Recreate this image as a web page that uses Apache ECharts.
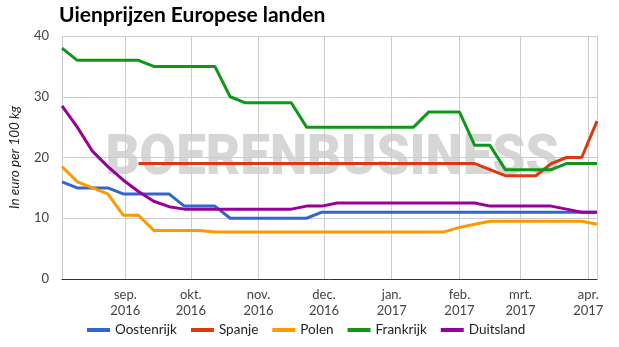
<!DOCTYPE html>
<html>
<head>
<meta charset="utf-8">
<script src="https://cdn.jsdelivr.net/npm/echarts@6/dist/echarts.min.js"></script>
<style>html,body{margin:0;padding:0;background:#fff}#c{width:619px;height:347px}</style>
</head>
<body>
<div id="c"></div>
<script>
const dates = ['2016-08-03','2016-08-10','2016-08-17','2016-08-24','2016-08-31',
  '2016-09-07','2016-09-14','2016-09-21','2016-09-28',
  '2016-10-05','2016-10-12','2016-10-19','2016-10-26',
  '2016-11-02','2016-11-09','2016-11-16','2016-11-23','2016-11-30',
  '2016-12-07','2016-12-14','2016-12-21','2016-12-28',
  '2017-01-04','2017-01-11','2017-01-18','2017-01-25',
  '2017-02-01','2017-02-08','2017-02-15','2017-02-22',
  '2017-03-01','2017-03-08','2017-03-15','2017-03-22','2017-03-29',
  '2017-04-05'];
const oostenrijk = [16,15,15,15,14,14,14,14,12,12,12,10,10,10,10,10,10,11,11,11,11,11,11,11,11,11,11,11,11,11,11,11,11,11,11,11];
const spanje = [null,null,null,null,null,19,19,19,19,19,19,19,19,19,19,19,19,19,19,19,19,19,19,19,19,19,19,19,18,17,17,17,19,20,20,26];
const polen = [18.5,16,15,14,10.5,10.5,8,8,8,8,7.75,7.75,7.75,7.75,7.75,7.75,7.75,7.75,7.75,7.75,7.75,7.75,7.75,7.75,7.75,7.75,8.5,9,9.5,9.5,9.5,9.5,9.5,9.5,9.5,9];
const frankrijk = [38,36,36,36,36,36,35,35,35,35,35,30,29,29,29,29,25,25,25,25,25,25,25,25,27.5,27.5,27.5,22,22,18,18,18,18,19,19,19];
const duitsland = [28.5,25,21,18.5,16.3,14.4,12.8,11.9,11.5,11.5,11.5,11.5,11.5,11.5,11.5,11.5,12,12,12.5,12.5,12.5,12.5,12.5,12.5,12.5,12.5,12.5,12.5,12,12,12,12,12,11.5,11,11];
const monthNames = ['jan.','feb.','mrt.','apr.','mei','jun.','jul.','aug.','sep.','okt.','nov.','dec.'];
const seriesNames = ['Oostenrijk','Spanje','Polen','Frankrijk','Duitsland'];
const colors = ['#3366cc','#dc3912','#ff9900','#109618','#990099'];
const values = [oostenrijk, spanje, polen, frankrijk, duitsland];

const chart = echarts.init(document.getElementById('c'), null, {renderer:'canvas'});
const font = 'Lato';
chart.setOption({
  animation: false,
  textStyle: {fontFamily: font},
  title: {
    text: 'Uienprijzen Europese landen', left: 59, top: 5, padding: 0,
    textStyle: {fontFamily: font, fontSize: 21, fontWeight: 'bold', color: '#000'}
  },
  graphic: [{
    type: 'text', x: 332, y: 160, z: -1, silent: true, scaleX: 0.945,
    style: {text: 'BOERENBUSINESS', fill: '#d6d6d6', font: '900 56px Roboto', align: 'center', verticalAlign: 'middle'}
  }],
  grid: {left: 59, right: 22, top: 36, bottom: 68, containLabel: false},
  legend: {
    bottom: 5, left: 82, itemWidth: 23, itemHeight: 4, itemGap: 14, icon: 'rect',
    textStyle: {fontFamily: font, fontSize: 13.5, color: '#222'},
    data: seriesNames
  },
  xAxis: {
    type: 'time',
    min: '2016-08-03', max: '2017-04-05',
    splitNumber: 8,
    minInterval: 28 * 86400000,
    maxInterval: 31 * 86400000,
    axisLine: {show: true, lineStyle: {color: '#333', width: 1}},
    axisTick: {show: false},
    splitLine: {show: true, lineStyle: {color: '#cccccc', width: 1}},
    axisLabel: {
      color: '#444', fontSize: 13, lineHeight: 16, margin: 8, fontFamily: font,
      formatter: function (v) { const d = new Date(v); return monthNames[d.getMonth()] + '\n' + d.getFullYear(); }
    }
  },
  yAxis: {
    type: 'value', min: 0, max: 40, interval: 10,
    name: 'In euro per 100 kg', nameLocation: 'middle', nameGap: 40,
    nameTextStyle: {fontStyle: 'italic', fontSize: 13.5, color: '#222', fontFamily: font},
    axisLine: {show: false}, axisTick: {show: false},
    splitLine: {lineStyle: {color: '#cccccc'}},
    axisLabel: {color: '#444', fontSize: 13, margin: 13, fontFamily: font}
  },
  series: seriesNames.map((n, k) => ({
    name: n, type: 'line', z: 3,
    data: dates.map((d, i) => [d, values[k][i]]),
    showSymbol: false, symbol: 'none',
    lineStyle: {width: 3, color: colors[k]},
    itemStyle: {color: colors[k]},
    connectNulls: false
  }))
});
</script>
</body>
</html>
